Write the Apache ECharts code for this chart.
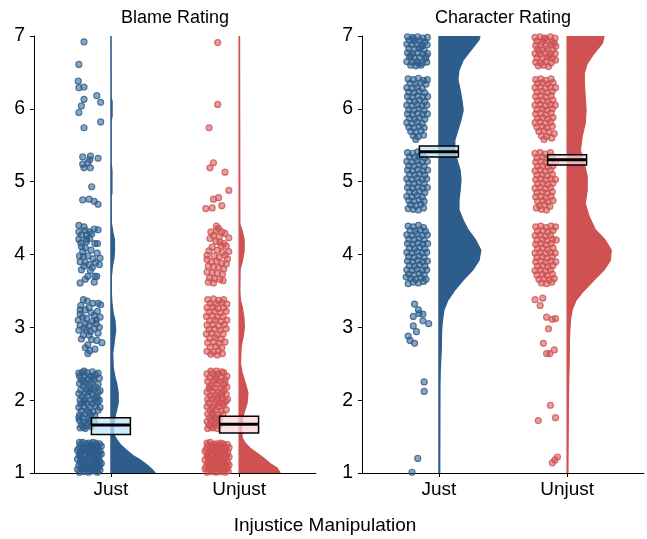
<!DOCTYPE html>
<html>
<head>
<meta charset="utf-8">
<script src="https://cdn.jsdelivr.net/npm/echarts@6/dist/echarts.min.js"></script>
<style>html,body{margin:0;padding:0;background:#fff;}#chart{width:647px;height:539px;}</style>
</head>
<body>
<div id="chart"></div>
<script>
// ---------------- DATA ----------------
const categories = ['Just', 'Unjust'];
const panelTitles = ['Blame Rating', 'Character Rating'];
const xAxisTitle = 'Injustice Manipulation';
const yTicks = [1, 2, 3, 4, 5, 6, 7];

// jittered raw points: [jitter offset from category, rating]
const blameJustPts = [
[-.21,6.92],
[-.25,6.61],[-.255,6.38],[-.25,6.29],[-.21,6.30],[-.21,6.13],[-.23,6.04],[-.25,5.95],[-.11,6.18],[-.08,6.09],[-.08,5.82],[-.21,5.74],
[-.22,5.34],[-.16,5.35],[-.165,5.30],[-.10,5.32],[-.18,5.26],[-.22,5.24],[-.21,5.19],[-.16,5.19],[-.15,4.93],[-.22,4.75],[-.17,4.76],[-.13,4.73],[-.10,4.69],
[-.25,4.4],[-.21,4.38],[-.25,4.31],[-.2,4.33],[-.165,4.31],[-.1,4.34],[-.23,4.27],[-.19,4.27],[-.15,4.28],[-.25,4.21],[-.19,4.21],[-.19,4.18],[-.125,4.15],[-.105,4.15],[-.23,4.11],[-.2,4.09],[-.107,4.02],[-.215,3.97],[-.18,3.98],[-.24,3.9],[-.2,3.89],[-.17,3.86],[-.12,3.89],[-.09,3.86],[-.23,3.79],[-.18,3.7],[-.125,3.7],[-.11,3.7],[-.24,3.61],[-.13,3.62],[-.22,4.04],[-.155,4.06],[-.245,3.98],[-.14,3.94],[-.21,3.84],[-.16,3.78],[-.2,3.66],[-.235,4.16],[-.165,4.22],[-.13,4.35],[-.145,3.82],[-.085,3.95],
[-.215,3.38],[-.14,3.33],[-.1,3.33],[-.08,3.31],[-.24,3.24],[-.2,3.24],[-.17,3.27],[-.22,3.14],[-.19,3.12],[-.115,3.1],[-.085,3.14],[-.255,3.1],[-.24,3.03],[-.2,3.05],[-.17,3.03],[-.115,3.05],[-.09,3.0],[-.25,2.96],[-.19,2.96],[-.13,2.98],[-.215,2.89],[-.17,2.89],[-.11,2.82],[-.07,2.79],[-.18,2.76],[-.18,2.64],[-.125,2.7],[-.155,3.2],[-.235,3.3],[-.13,3.16],[-.16,2.94],[-.23,2.84],[-.2,2.72],[-.15,2.83],[-.1,2.92],[-.24,3.18],[-.185,3.36],[-.145,3.08],[-.21,2.99],[-.105,3.22],[-.165,2.68],
[-.24,1.62],[-.2,1.61],[-.23,1.66],[-.19,1.65],[-.21,1.7],[-.245,1.72],[-.18,1.69],[-.15,1.64],[-.22,1.76],[-.175,1.75],[-.245,1.8],[-.2,1.81],[-.155,1.79],[-.125,1.78],[-.23,1.85],[-.185,1.86],[-.14,1.84],[-.1,1.86],[-.25,1.9],[-.21,1.91],[-.165,1.9],[-.12,1.92],[-.085,1.9],[-.235,1.95],[-.19,1.96],[-.145,1.95],[-.105,1.97],[-.24,2.0],[-.205,2.01],[-.16,2.0],[-.13,2.02],[-.09,2.0],[-.225,2.05],[-.18,2.06],[-.115,2.05],[-.25,2.09],[-.2,2.1],[-.15,2.09],[-.1,2.11],[-.235,2.14],[-.19,2.15],[-.135,2.14],[-.085,2.13],[-.215,2.19],[-.17,2.2],[-.12,2.18],[-.245,2.23],[-.2,2.24],[-.155,2.24],[-.1,2.22],[-.23,2.28],[-.18,2.29],[-.135,2.28],[-.09,2.3],[-.245,2.33],[-.205,2.34],[-.16,2.33],[-.12,2.35],[-.225,2.38],[-.185,2.38],[-.145,2.39],[-.1,2.37],[-.21,2.4],[-.165,1.72],[-.13,1.7],
[-.215,1.63],[-.17,1.83],[-.21,1.98],[-.17,2.12],[-.215,2.26],[-.14,2.31],[-.25,2.37],[-.105,2.03],[-.155,2.16],[-.25,1.76],
[-.245,1.01],[-.21,1.02],[-.175,1.01],[-.14,1.03],[-.105,1.01],[-.085,1.04],[-.23,1.06],[-.19,1.07],[-.155,1.05],[-.12,1.07],[-.095,1.08],[-.25,1.1],[-.215,1.11],[-.17,1.1],[-.135,1.12],[-.1,1.12],[-.24,1.15],[-.195,1.16],[-.16,1.15],[-.125,1.17],[-.088,1.16],[-.225,1.2],[-.18,1.19],[-.145,1.21],[-.11,1.2],[-.248,1.24],[-.205,1.25],[-.165,1.24],[-.13,1.26],[-.092,1.25],[-.232,1.29],[-.19,1.3],[-.15,1.29],[-.115,1.31],[-.085,1.3],[-.25,1.34],[-.21,1.35],[-.17,1.34],[-.135,1.36],[-.1,1.35],[-.235,1.39],[-.195,1.4],[-.155,1.39],[-.12,1.41],[-.09,1.4],[-.22,1.42],[-.14,1.42],[-.2,1.03],[-.16,1.08],[-.125,1.04],[-.23,1.13],[-.115,1.14],[-.205,1.18],[-.095,1.21],[-.24,1.27],[-.175,1.28],[-.1,1.28],[-.225,1.33],[-.145,1.33],[-.185,1.37],[-.11,1.38],[-.245,1.42],[-.09,1.1],[-.18,1.22],[-.155,1.36],
[-.26,1.05],[-.26,1.19],[-.26,1.31],[-.075,1.13],[-.075,1.26],[-.075,1.37],[-.215,1.07],[-.145,1.09],[-.19,1.12],[-.235,1.22],[-.15,1.25],[-.12,1.33],[-.205,1.31],[-.175,1.41],[-.105,1.06],[-.13,1.19]
];

const blameUnjustPts = [
[-.167,6.91],[-.167,6.06],[-.234,5.74],[-.2,5.26],[-.227,5.19],[-.11,5.13],[-.08,4.88],[-.16,4.78],[-.2,4.76],[-.26,4.63],[-.21,4.64],[-.135,4.67],
[-.177,4.39],[-.175,4.33],[-.135,4.31],[-.11,4.29],[-.08,4.23],[-.227,4.22],[-.18,4.18],[-.15,4.17],[-.12,4.15],[-.1,4.12],[-.14,4.12],[-.08,4.04],[-.25,3.99],[-.11,3.99],[-.2,4.26],[-.155,4.24],[-.21,4.1],[-.17,4.06],[-.13,4.03],[-.235,4.05],[-.195,3.98],[-.155,3.96],[-.09,3.94],[-.25,3.93],[-.215,3.9],[-.175,3.91],[-.135,3.88],[-.1,3.87],[-.24,3.84],[-.2,3.83],[-.16,3.82],[-.12,3.8],[-.25,3.76],[-.21,3.75],[-.17,3.74],[-.13,3.73],[-.23,3.68],[-.19,3.67],[-.15,3.66],[-.24,3.62],[-.2,3.61],[-.125,3.64],[-.16,4.36],[-.22,4.31],
[-.245,3.38],[-.2,3.39],[-.16,3.37],[-.12,3.38],[-.225,3.33],[-.18,3.32],[-.135,3.34],[-.095,3.32],[-.25,3.27],[-.205,3.28],[-.165,3.26],[-.12,3.27],[-.235,3.21],[-.19,3.22],[-.145,3.2],[-.1,3.22],[-.255,3.15],[-.21,3.16],[-.17,3.14],[-.125,3.15],[-.23,3.09],[-.185,3.1],[-.14,3.08],[-.095,3.1],[-.25,3.03],[-.205,3.04],[-.16,3.02],[-.115,3.04],[-.235,2.97],[-.19,2.98],[-.145,2.96],[-.1,2.98],[-.255,2.91],[-.215,2.92],[-.17,2.9],[-.125,2.91],[-.23,2.85],[-.185,2.86],[-.14,2.84],[-.245,2.79],[-.2,2.8],[-.155,2.78],[-.11,2.8],[-.225,2.73],[-.18,2.74],[-.135,2.72],[-.25,2.67],[-.2,2.66],[-.16,2.68],[-.17,2.62],[-.22,2.63],[-.13,2.64],
[-.245,1.61],[-.205,1.62],[-.17,1.61],[-.235,1.66],[-.195,1.67],[-.155,1.65],[-.25,1.71],[-.215,1.72],[-.175,1.7],[-.23,1.76],[-.19,1.77],[-.15,1.75],[-.245,1.81],[-.205,1.82],[-.165,1.8],[-.125,1.81],[-.225,1.86],[-.18,1.87],[-.14,1.85],[-.1,1.87],[-.25,1.91],[-.2,1.92],[-.16,1.91],[-.12,1.93],[-.235,1.96],[-.19,1.97],[-.15,1.96],[-.105,1.98],[-.245,2.01],[-.21,2.02],[-.17,2.0],[-.13,2.03],[-.09,2.01],[-.225,2.06],[-.185,2.07],[-.14,2.06],[-.1,2.08],[-.25,2.11],[-.205,2.12],[-.16,2.11],[-.12,2.13],[-.235,2.16],[-.19,2.17],[-.145,2.16],[-.095,2.18],[-.215,2.21],[-.17,2.22],[-.125,2.21],[-.245,2.26],[-.2,2.27],[-.155,2.26],[-.11,2.28],[-.23,2.31],[-.185,2.32],[-.14,2.31],[-.095,2.33],[-.25,2.36],[-.205,2.37],[-.165,2.36],[-.12,2.38],[-.22,2.4],[-.175,2.4],[-.135,2.39],
[-.22,1.64],[-.185,1.73],[-.21,1.89],[-.165,2.04],[-.23,2.19],[-.18,2.29],[-.135,2.1],[-.21,1.79],[-.13,1.95],[-.11,2.23],
[-.25,1.01],[-.215,1.02],[-.18,1.01],[-.145,1.02],[-.11,1.01],[-.085,1.03],[-.235,1.05],[-.195,1.06],[-.16,1.05],[-.125,1.07],[-.095,1.06],[-.255,1.09],[-.22,1.1],[-.175,1.09],[-.14,1.11],[-.105,1.1],[-.245,1.14],[-.2,1.15],[-.165,1.14],[-.13,1.16],[-.09,1.15],[-.23,1.19],[-.185,1.18],[-.15,1.2],[-.115,1.19],[-.25,1.23],[-.21,1.24],[-.17,1.23],[-.135,1.25],[-.095,1.24],[-.235,1.28],[-.195,1.29],[-.155,1.28],[-.12,1.3],[-.088,1.29],[-.255,1.33],[-.215,1.34],[-.175,1.33],[-.14,1.35],[-.105,1.34],[-.24,1.38],[-.2,1.39],[-.16,1.38],[-.125,1.4],[-.092,1.39],[-.225,1.42],[-.145,1.41],[-.205,1.04],[-.165,1.08],[-.13,1.03],[-.235,1.12],[-.11,1.13],[-.21,1.17],[-.1,1.21],[-.245,1.26],[-.18,1.27],[-.105,1.27],[-.23,1.32],[-.15,1.32],[-.19,1.36],[-.115,1.37],[-.25,1.41],[-.095,1.09],[-.185,1.21],[-.16,1.36],
[-.265,1.06],[-.265,1.18],[-.265,1.3],[-.078,1.11],[-.078,1.22],[-.078,1.35],[-.225,1.07],[-.15,1.08],[-.195,1.12],[-.24,1.21],[-.155,1.24],[-.125,1.34],[-.21,1.3],[-.18,1.4],[-.11,1.05],[-.135,1.18]
];

const charJustPts = [
[-.245,6.99],[-.205,6.98],[-.165,6.99],[-.125,6.97],[-.09,6.98],[-.23,6.94],[-.19,6.93],[-.15,6.94],[-.11,6.92],[-.25,6.89],[-.21,6.88],[-.17,6.89],[-.13,6.87],[-.092,6.88],[-.235,6.83],[-.195,6.82],[-.155,6.83],[-.115,6.81],[-.245,6.77],[-.205,6.76],[-.165,6.77],[-.125,6.75],[-.088,6.76],[-.23,6.71],[-.19,6.7],[-.15,6.71],[-.105,6.69],[-.25,6.65],[-.21,6.64],[-.17,6.65],[-.13,6.63],[-.095,6.64],[-.22,6.6],[-.18,6.59],[-.14,6.6],[-.2,6.96],[-.14,6.85],[-.22,6.73],[-.1,6.72],[-.16,6.62],
[-.24,6.41],[-.2,6.4],[-.16,6.42],[-.12,6.39],[-.09,6.4],[-.225,6.35],[-.185,6.34],[-.14,6.36],[-.1,6.34],[-.25,6.29],[-.21,6.28],[-.17,6.3],[-.13,6.28],[-.235,6.23],[-.195,6.22],[-.155,6.24],[-.11,6.22],[-.245,6.17],[-.205,6.16],[-.165,6.18],[-.125,6.16],[-.088,6.17],[-.23,6.11],[-.19,6.1],[-.15,6.12],[-.11,6.1],[-.25,6.05],[-.21,6.04],[-.17,6.06],[-.13,6.04],[-.095,6.05],[-.235,5.99],[-.195,5.98],[-.155,6.0],[-.115,5.98],[-.245,5.93],[-.205,5.92],[-.165,5.94],[-.125,5.92],[-.09,5.93],[-.23,5.87],[-.19,5.86],[-.15,5.88],[-.11,5.86],[-.25,5.81],[-.21,5.8],[-.17,5.82],[-.13,5.8],[-.235,5.75],[-.195,5.74],[-.155,5.76],[-.115,5.74],[-.22,5.69],[-.18,5.68],[-.14,5.7],[-.2,5.63],[-.16,5.62],[-.12,5.64],[-.18,5.58],
[-.245,5.4],[-.205,5.39],[-.165,5.41],[-.13,5.38],[-.23,5.34],[-.19,5.33],[-.15,5.35],[-.11,5.33],[-.25,5.28],[-.21,5.27],[-.17,5.29],[-.13,5.27],[-.09,5.28],[-.235,5.22],[-.195,5.21],[-.155,5.23],[-.115,5.21],[-.245,5.16],[-.205,5.15],[-.165,5.17],[-.125,5.15],[-.088,5.16],[-.23,5.1],[-.19,5.09],[-.15,5.11],[-.11,5.09],[-.25,5.04],[-.21,5.03],[-.17,5.05],[-.13,5.03],[-.095,5.04],[-.235,4.98],[-.195,4.97],[-.155,4.99],[-.115,4.97],[-.245,4.92],[-.205,4.91],[-.165,4.93],[-.125,4.91],[-.09,4.92],[-.23,4.86],[-.19,4.85],[-.15,4.87],[-.11,4.85],[-.25,4.8],[-.21,4.79],[-.17,4.81],[-.13,4.79],[-.235,4.74],[-.195,4.73],[-.155,4.75],[-.115,4.73],[-.22,4.68],[-.18,4.67],[-.14,4.69],[-.2,4.62],[-.16,4.61],[-.24,4.63],[-.12,4.64],
[-.24,4.39],[-.2,4.38],[-.16,4.4],[-.12,4.37],[-.225,4.33],[-.185,4.32],[-.145,4.34],[-.105,4.32],[-.25,4.27],[-.21,4.26],[-.17,4.28],[-.13,4.26],[-.09,4.27],[-.235,4.21],[-.195,4.2],[-.155,4.22],[-.115,4.2],[-.245,4.15],[-.205,4.14],[-.165,4.16],[-.125,4.14],[-.088,4.15],[-.23,4.09],[-.19,4.08],[-.15,4.1],[-.11,4.08],[-.25,4.03],[-.21,4.02],[-.17,4.04],[-.13,4.02],[-.095,4.03],[-.235,3.97],[-.195,3.96],[-.155,3.98],[-.115,3.96],[-.245,3.91],[-.205,3.9],[-.165,3.92],[-.125,3.9],[-.09,3.91],[-.23,3.85],[-.19,3.84],[-.15,3.86],[-.11,3.84],[-.25,3.79],[-.21,3.78],[-.17,3.8],[-.13,3.78],[-.095,3.79],[-.235,3.73],[-.195,3.72],[-.155,3.74],[-.115,3.72],[-.22,3.67],[-.18,3.66],[-.14,3.68],[-.1,3.66],[-.255,3.69],[-.24,3.6],[-.2,3.62],[-.16,3.61],[-.12,3.63],
[-.19,3.32],[-.16,3.24],[-.2,3.15],[-.155,3.19],[-.125,3.18],[-.125,3.09],[-.08,3.05],[-.2,3.02],[-.175,2.94],[-.24,2.88],[-.225,2.82],[-.19,2.78],[-.115,2.25],[-.115,2.12],[-.165,1.2],[-.21,1.01]
];

const charUnjustPts = [
[-.25,6.98],[-.21,6.99],[-.17,6.97],[-.13,6.99],[-.095,6.97],[-.235,6.93],[-.195,6.92],[-.155,6.94],[-.115,6.92],[-.245,6.87],[-.205,6.88],[-.165,6.86],[-.125,6.88],[-.088,6.86],[-.23,6.82],[-.19,6.81],[-.15,6.83],[-.11,6.81],[-.25,6.76],[-.21,6.75],[-.17,6.77],[-.13,6.75],[-.092,6.76],[-.235,6.7],[-.195,6.69],[-.155,6.71],[-.115,6.69],[-.245,6.64],[-.205,6.63],[-.165,6.65],[-.125,6.63],[-.225,6.59],[-.185,6.6],[-.145,6.58],[-.18,6.96],[-.1,6.9],[-.22,6.79],[-.14,6.73],[-.09,6.67],
[-.245,6.4],[-.205,6.41],[-.165,6.39],[-.125,6.41],[-.23,6.35],[-.19,6.36],[-.15,6.34],[-.11,6.36],[-.25,6.29],[-.21,6.3],[-.17,6.28],[-.13,6.3],[-.09,6.29],[-.235,6.23],[-.195,6.24],[-.155,6.22],[-.115,6.24],[-.245,6.17],[-.205,6.18],[-.165,6.16],[-.125,6.18],[-.23,6.11],[-.19,6.12],[-.15,6.1],[-.11,6.12],[-.25,6.05],[-.21,6.06],[-.17,6.04],[-.13,6.06],[-.092,6.05],[-.235,5.99],[-.195,6.0],[-.155,5.98],[-.115,6.0],[-.245,5.93],[-.205,5.94],[-.165,5.92],[-.125,5.94],[-.23,5.87],[-.19,5.88],[-.15,5.86],[-.11,5.88],[-.25,5.81],[-.21,5.82],[-.17,5.8],[-.13,5.82],[-.235,5.75],[-.195,5.76],[-.155,5.74],[-.115,5.76],[-.22,5.69],[-.18,5.7],[-.14,5.68],[-.1,5.66],[-.2,5.63],[-.16,5.62],[-.12,5.6],[-.18,5.58],
[-.25,5.39],[-.21,5.4],[-.17,5.38],[-.13,5.4],[-.235,5.33],[-.195,5.34],[-.155,5.32],[-.115,5.34],[-.245,5.27],[-.205,5.28],[-.165,5.26],[-.125,5.28],[-.09,5.27],[-.23,5.21],[-.19,5.22],[-.15,5.2],[-.11,5.22],[-.25,5.15],[-.21,5.16],[-.17,5.14],[-.13,5.16],[-.235,5.09],[-.195,5.1],[-.155,5.08],[-.115,5.1],[-.245,5.03],[-.205,5.04],[-.165,5.02],[-.125,5.04],[-.09,5.03],[-.23,4.97],[-.19,4.98],[-.15,4.96],[-.11,4.98],[-.25,4.91],[-.21,4.92],[-.17,4.9],[-.13,4.92],[-.235,4.85],[-.195,4.86],[-.155,4.84],[-.115,4.86],[-.245,4.79],[-.205,4.8],[-.165,4.78],[-.125,4.8],[-.23,4.73],[-.19,4.74],[-.15,4.72],[-.11,4.74],[-.215,4.67],[-.175,4.68],[-.135,4.66],[-.2,4.62],[-.16,4.61],[-.24,4.64],
[-.245,4.38],[-.205,4.39],[-.165,4.37],[-.125,4.39],[-.09,4.38],[-.23,4.32],[-.19,4.33],[-.15,4.31],[-.11,4.33],[-.25,4.26],[-.21,4.27],[-.17,4.25],[-.13,4.27],[-.235,4.2],[-.195,4.21],[-.155,4.19],[-.115,4.21],[-.085,4.2],[-.245,4.14],[-.205,4.15],[-.165,4.13],[-.125,4.15],[-.23,4.08],[-.19,4.09],[-.15,4.07],[-.11,4.09],[-.25,4.02],[-.21,4.03],[-.17,4.01],[-.13,4.03],[-.092,4.02],[-.235,3.96],[-.195,3.97],[-.155,3.95],[-.115,3.97],[-.245,3.9],[-.205,3.91],[-.165,3.89],[-.125,3.91],[-.088,3.9],[-.23,3.84],[-.19,3.85],[-.15,3.83],[-.11,3.85],[-.25,3.78],[-.21,3.79],[-.17,3.77],[-.13,3.79],[-.235,3.72],[-.195,3.73],[-.155,3.71],[-.115,3.73],[-.22,3.66],[-.18,3.67],[-.14,3.65],[-.1,3.67],[-.2,3.61],[-.16,3.6],[-.12,3.62],
[-.25,3.38],[-.19,3.4],[-.21,3.3],[-.16,3.14],[-.115,3.11],[-.09,3.12],[-.145,2.98],[-.185,2.78],[-.16,2.64],[-.135,2.64],[-.1,2.69],[-.13,1.93],[-.225,1.72],[-.09,1.76],[-.115,1.14],[-.095,1.18],[-.075,1.22]
];

// half-violin densities: [rating, relative density]
const blameJustDens = [[1,1],[1.04,.95],[1.11,.82],[1.18,.66],[1.24,.5],[1.31,.36],[1.38,.23],[1.45,.14],[1.52,.075],[1.6,.057],[1.7,.07],[1.82,.11],[1.96,.165],[2.1,.165],[2.23,.13],[2.32,.09],[2.45,.052],[2.64,.04],[2.78,.07],[2.96,.107],[3.1,.09],[3.19,.052],[3.33,.023],[3.47,.01],[3.7,.01],[3.85,.035],[3.95,.07],[4.05,.08],[4.2,.08],[4.3,.045],[4.43,.01],[4.8,.007],[4.85,.023],[5.15,.023],[5.25,.007],[5.85,.007],[5.9,.027],[6.1,.027],[6.15,.007],[7,.005]];
const blameUnjustDens = [[1,.93],[1.07,.86],[1.13,.7],[1.2,.57],[1.27,.41],[1.34,.25],[1.41,.14],[1.48,.07],[1.6,.057],[1.7,.07],[1.82,.107],[1.96,.18],[2.1,.2],[2.23,.143],[2.37,.07],[2.5,.03],[2.73,.045],[2.87,.09],[3,.12],[3.14,.107],[3.28,.07],[3.37,.03],[3.5,.016],[3.8,.023],[3.9,.07],[4.05,.114],[4.2,.114],[4.32,.07],[4.42,.016],[7,.01]];
const charJustDens = [[1,.018],[2.2,.023],[2.41,.03],[2.69,.052],[2.96,.061],[3.1,.08],[3.24,.114],[3.37,.2],[3.51,.36],[3.65,.55],[3.79,.77],[3.92,.91],[4.06,.95],[4.2,.83],[4.34,.66],[4.47,.55],[4.61,.455],[4.75,.455],[4.88,.48],[5.02,.5],[5.16,.48],[5.3,.41],[5.43,.36],[5.57,.36],[5.71,.43],[5.85,.5],[5.98,.55],[6.12,.52],[6.26,.48],[6.4,.43],[6.53,.455],[6.67,.55],[6.81,.73],[6.95,.91],[7,.93]];
const charUnjustDens = [[1,.018],[2.04,.03],[2.5,.045],[2.82,.052],[2.96,.061],[3.1,.075],[3.24,.114],[3.37,.2],[3.51,.39],[3.65,.61],[3.79,.84],[3.92,.98],[4.06,1],[4.2,.86],[4.34,.64],[4.52,.5],[4.7,.41],[4.88,.455],[5.07,.455],[5.25,.39],[5.43,.3],[5.62,.34],[5.8,.41],[5.98,.43],[6.17,.41],[6.35,.39],[6.49,.39],[6.62,.455],[6.76,.61],[6.9,.8],[7,.84]];

// mean boxes: [lower, mean, upper]
const blameBoxes = [[1.53,1.66,1.76],[1.55,1.67,1.78]];
const charBoxes = [[5.34,5.41,5.49],[5.23,5.30,5.37]];

// ---------------- STYLE ----------------
const FONT = '"Liberation Sans", Arial, sans-serif';
const COLORS = ['#2d5d8b', '#cf5151'];
const PT_FILL = ['rgba(45,93,139,0.55)', 'rgba(207,81,81,0.55)'];
const PT_EDGE = ['rgba(45,93,139,0.8)', 'rgba(207,81,81,0.8)'];
const BOX_FILL = ['rgba(190,230,250,0.75)', 'rgba(251,214,219,0.75)'];
const DENS_W = 0.344;  // x-units for relative density 1
const BOX_HALF = 0.152;

const panels = [
  {pts:[blameJustPts, blameUnjustPts], dens:[blameJustDens, blameUnjustDens], boxes: blameBoxes},
  {pts:[charJustPts, charUnjustPts], dens:[charJustDens, charUnjustDens], boxes: charBoxes}
];

const grids = [
  {left: 34, top: 36, width: 282, height: 437},
  {left: 362, top: 36, width: 282, height: 437}
];

const xAxes = [0,1].map(i => ({
  gridIndex: i, type: 'value', min: 0.4, max: 2.6,
  axisLine: {show: true, onZero: false, lineStyle: {color: '#000', width: 1}},
  axisTick: {show: true, customValues: [1, 2], length: 4, lineStyle: {color: '#000'}},
  axisLabel: {show: true, customValues: [1, 2], formatter: v => categories[Math.round(v) - 1],
    fontSize: 19, color: '#000', margin: 7, fontFamily: FONT},
  splitLine: {show: false}
}));
const yAxes = [0,1].map(i => ({
  gridIndex: i, type: 'value', min: yTicks[0], max: yTicks[yTicks.length-1], interval: 1,
  axisLine: {show: true, onZero: false, lineStyle: {color: '#000', width: 1}},
  axisTick: {show: true, length: 4, lineStyle: {color: '#000'}},
  axisLabel: {fontSize: 19.5, color: '#000', margin: 9, fontFamily: FONT},
  splitLine: {show: false}
}));

const series = [];
panels.forEach((p, pi) => {
  // densities
  [0,1].forEach(g => {
    const dens = p.dens[g];
    series.push({
      type: 'custom', xAxisIndex: pi, yAxisIndex: pi, clip: true, z: 1, silent: true,
      data: [[g + 1, dens[0][0]]],
      encode: {x: 0, y: 1},
      renderItem: (params, api) => {
        const c = g + 1;
        const pts = [api.coord([c, dens[0][0]])];
        dens.forEach(([y, d]) => pts.push(api.coord([c + d * DENS_W, y])));
        pts.push(api.coord([c, dens[dens.length-1][0]]));
        return {type: 'polygon', shape: {points: pts},
          style: {fill: COLORS[g], stroke: COLORS[g], lineWidth: 1.3}};
      }
    });
  });
  // points
  [0,1].forEach(g => {
    series.push({
      type: 'scatter', xAxisIndex: pi, yAxisIndex: pi, z: 2, silent: true,
      symbol: 'circle', symbolSize: 6,
      data: p.pts[g].map(([dx, y]) => [g + 1 + dx, y]),
      itemStyle: {color: PT_FILL[g], borderColor: PT_EDGE[g], borderWidth: 1.2, opacity: 1}
    });
  });
  // boxes
  [0,1].forEach(g => {
    const b = p.boxes[g];
    series.push({
      type: 'custom', xAxisIndex: pi, yAxisIndex: pi, z: 3, silent: true,
      data: [[g + 1, b[0], b[1], b[2]]],
      encode: {x: 0, y: [1, 2, 3]},
      renderItem: (params, api) => {
        const c = api.value(0);
        const tl = api.coord([c - BOX_HALF, api.value(3)]);
        const br = api.coord([c + BOX_HALF, api.value(1)]);
        const ml = api.coord([c - BOX_HALF, api.value(2)]);
        const mr = api.coord([c + BOX_HALF, api.value(2)]);
        return {type: 'group', children: [
          {type: 'rect', shape: {x: tl[0], y: tl[1], width: br[0] - tl[0], height: br[1] - tl[1]},
            style: {fill: BOX_FILL[g], stroke: '#000', lineWidth: 1.5}},
          {type: 'line', shape: {x1: ml[0], y1: ml[1], x2: mr[0], y2: mr[1]},
            style: {stroke: '#000', lineWidth: 3}}
        ]};
      }
    });
  });
});

const textStyle = (t, x, y, size) => ({
  type: 'text', x: x, y: y, silent: true,
  style: {text: t, fontSize: size, fontFamily: FONT, fill: '#000',
    align: 'center', verticalAlign: 'middle', textAlign: 'center', textVerticalAlign: 'middle'}
});

const chart = echarts.init(document.getElementById('chart'), null, {renderer: 'canvas'});
chart.setOption({
  animation: false,
  backgroundColor: '#fff',
  grid: grids,
  xAxis: xAxes,
  yAxis: yAxes,
  series: series,
  graphic: [
    textStyle(panelTitles[0], 175, 18, 18),
    textStyle(panelTitles[1], 503, 18, 18),
    textStyle(xAxisTitle, 325, 526, 19)
  ]
});
</script>
</body>
</html>
